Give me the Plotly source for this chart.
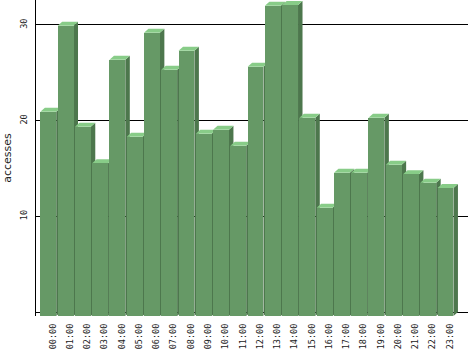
import plotly.graph_objects as go

hours = ["00:00", "01:00", "02:00", "03:00", "04:00", "05:00", "06:00", "07:00",
         "08:00", "09:00", "10:00", "11:00", "12:00", "13:00", "14:00", "15:00",
         "16:00", "17:00", "18:00", "19:00", "20:00", "21:00", "22:00", "23:00"]
accesses = [21.35, 30.34, 19.79, 15.96, 26.79, 18.74, 29.61, 25.75,
            27.73, 19.06, 19.47, 17.80, 26.06, 32.43, 32.51, 20.73,
            11.32, 14.98, 14.98, 20.73, 15.81, 14.81, 13.93, 13.39]
y_ticks = [10, 20, 30]

FRONT = "#669966"
TOP = "#88cc88"
SIDE = "#4d774d"

W, H = 468, 351
ML, MR, MT, MB = 36, 0, 0, 35
plot_w = W - ML - MR
plot_h = H - MT - MB

px_per_x = 17.27
x0 = -(48.3 - ML) / px_per_x
x1 = x0 + plot_w / px_per_x
px_per_y = 9.567
y_lo = -4.0 / px_per_y
y_hi = y_lo + plot_h / px_per_y

bar_w = 0.92
dx = 4.5 / px_per_x
dy = 4.0 / px_per_y

idx = list(range(len(hours)))

fig = go.Figure()
fig.add_trace(go.Bar(
    x=idx, y=accesses, base=[-dy] * len(idx), width=bar_w,
    marker=dict(color=FRONT, line=dict(width=0)),
    hoverinfo="skip", showlegend=False,
))

shapes = []
for i, v in zip(idx, accesses):
    xl, xr = i - bar_w / 2, i + bar_w / 2
    yb, yt = -dy, v - dy
    side = f"M{xr},{yb} L{xr+dx},0 L{xr+dx},{v} L{xr},{yt} Z"
    top = f"M{xl},{yt} L{xr},{yt} L{xr+dx},{v} L{xl+dx},{v} Z"
    shapes.append(dict(type="path", path=side, xref="x", yref="y",
                       fillcolor=SIDE, line=dict(width=0), layer="between"))
    shapes.append(dict(type="path", path=top, xref="x", yref="y",
                       fillcolor=TOP, line=dict(width=0), layer="between"))

fig.update_layout(
    width=W, height=H,
    margin=dict(l=ML, r=MR, t=MT, b=MB, pad=0),
    paper_bgcolor="white", plot_bgcolor="white",
    shapes=shapes,
    bargap=0,
    xaxis=dict(
        range=[x0, x1], tickmode="array",
        tickvals=[i + dx for i in idx], ticktext=hours,
        tickangle=-90, showgrid=False, zeroline=False, showline=False,
        ticks="", ticklabelstandoff=5,
        tickfont=dict(family="DejaVu Sans Mono", size=8.5, color="#222222"),
        fixedrange=True,
    ),
    yaxis=dict(
        range=[y_lo, y_hi], tickmode="array", tickvals=y_ticks,
        ticktext=[str(t) for t in y_ticks],
        tickangle=-90, showgrid=True, gridcolor="black", gridwidth=1,
        zeroline=True, zerolinecolor="black", zerolinewidth=1,
        showline=True, linecolor="black", linewidth=1,
        ticks="", ticklabelstandoff=5,
        tickfont=dict(family="DejaVu Sans Mono", size=8.5, color="#222222"),
        title=dict(text="accesses", standoff=4,
                   font=dict(family="DejaVu Sans", size=11, color="#222222")),
        fixedrange=True,
    ),
)

fig.write_html("out.html", config={"displayModeBar": False})
